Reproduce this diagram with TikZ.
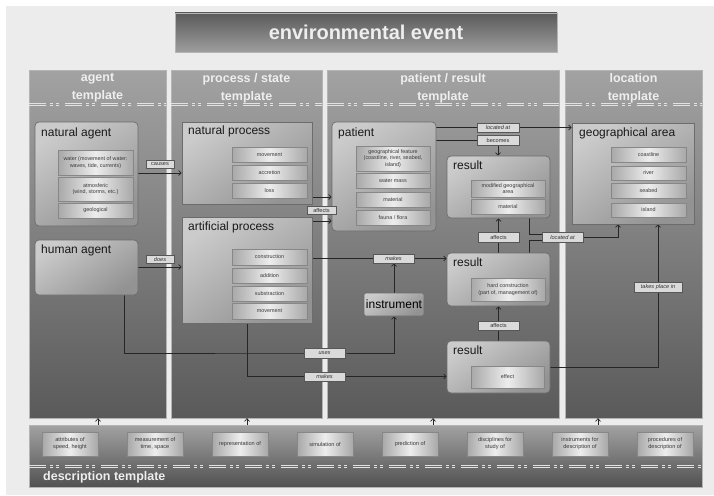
\documentclass[tikz,border=0pt]{standalone}
\usepackage{fontspec}
\setmainfont{Liberation Sans}
\usetikzlibrary{arrows.meta,calc}
\definecolor{pagebg}{HTML}{ECECEC}
\definecolor{colTop}{HTML}{A2A2A2}
\definecolor{colBot}{HTML}{5A5A5A}
\definecolor{colLine}{HTML}{B4B4B4}
\definecolor{boxA}{HTML}{CBCBCB}
\definecolor{boxB}{HTML}{939393}
\definecolor{boxLine}{HTML}{6C6C6C}
\definecolor{subA}{HTML}{A8A8A8}
\definecolor{subB}{HTML}{EDEDED}
\definecolor{subLine}{HTML}{878787}
\definecolor{lblFill}{HTML}{DADADA}
\definecolor{lblLine}{HTML}{575757}
\definecolor{lineC}{HTML}{262626}
\definecolor{hdrText}{HTML}{EEEEEE}
\definecolor{dashC}{HTML}{E2E2E2}
\definecolor{subText}{HTML}{3A3A3A}
\newcommand\subfnt{\fontsize{5.4}{6.6}\selectfont}
\newcommand\lblfnt{\fontsize{5.6}{6}\selectfont}
\newcommand\ttlfnt{\fontsize{12}{14}\selectfont}
\newcommand\hdrfnt{\bfseries\fontsize{12.5}{18}\selectfont}
\newcommand\mkbox[7][]{\node[#1, minimum width={(#5-#3)*1pt}, minimum height={(#6-#4)*1pt}, anchor=center] (#2) at ({(#3+#5)/2},{(#4+#6)/2}) {#7};}
\pgfdeclarelayer{bg}
\pgfdeclarelayer{lines}
\pgfsetlayers{bg,lines,main}
\tikzset{
  colst/.style={draw=colLine, line width=0.4pt, top color=colTop, bottom color=colBot, inner sep=0},
  descst/.style={draw=colLine, line width=0.4pt, top color=colTop, bottom color=colBot!90!black, inner sep=0},
  titlest/.style={draw=colLine, line width=0.5pt, top color=colBot, bottom color=colTop!105!white, inner sep=0, text=hdrText, font=\bfseries\fontsize{20}{24}\selectfont},
  hdr/.style={inner sep=0, align=center, text=hdrText, font=\hdrfnt},
  bigst/.style={draw=boxLine, line width=0.7pt, top color=boxA, bottom color=boxB, shading angle=35, inner sep=0},
  rbig/.style={bigst, rounded corners=4pt},
  subst/.style={draw=subLine, line width=0.6pt, left color=subA, right color=subA, middle color=subB, inner sep=0, font=\subfnt, align=center, text=subText},
  descbox/.style={subst, font=\fontsize{5.6}{7}\selectfont},
  ttl/.style={anchor=base west, inner sep=0, font=\ttlfnt, text=black!90},
  lblst/.style={draw=lblLine, line width=0.5pt, fill=lblFill, inner sep=0, font=\lblfnt, text=black!80},
  lbli/.style={lblst, font=\lblfnt\itshape},
  dashst/.style={draw=dashC, line width=0.6pt, dash pattern=on 17pt off 4pt on 3pt off 3pt on 3pt off 6pt},
  conn/.style={draw=lineC, line width=0.7pt},
  arr/.style={conn, -{Straight Barb[length=2.6pt,width=5pt]}}
}
\begin{document}
\begin{tikzpicture}[x=1pt,y=-1pt]
\useasboundingbox (0,0) rectangle (714,495);
\begin{pgfonlayer}{bg}
\fill[white] (0,0) rectangle (714,495);
\fill[pagebg] (6,6) rectangle (714,495);
\mkbox[colst]{colA}{29}{70}{166}{418}{}
\mkbox[colst]{colB}{171}{70}{322}{418}{}
\mkbox[colst]{colC}{327}{70}{559}{418}{}
\mkbox[colst]{colD}{565}{70}{702}{418}{}
\mkbox[descst]{desc}{29}{425}{702}{487}{}
\coordinate (hy) at (0,103.6);
\coordinate (hy2) at (0,105.4);
\coordinate (dy) at (0,465.6);
\coordinate (dy2) at (0,467.4);
\foreach \c in {colA,colB,colC,colD}{
  \draw[dashst] (\c.west |- hy) -- (\c.east |- hy);
  \draw[dashst] (\c.west |- hy2) -- (\c.east |- hy2);
}
\draw[dashst] (desc.west |- dy) -- (desc.east |- dy);
\draw[dashst] (desc.west |- dy2) -- (desc.east |- dy2);
\end{pgfonlayer}

\mkbox[titlest]{title}{175}{13}{557}{52}{environmental event}
\node[hdr] (hA) at (97.5,88) {agent\\template};
\node[hdr] (hB) at (246.5,88) {process / state\\template};
\node[hdr] (hC) at (443,88) {patient / result\\template};
\node[hdr] (hD) at (633.5,88) {location\\template};
\node[hdr, anchor=west] (descT) at (43,477) {description template};

% agent column
\mkbox[rbig]{na}{35}{122}{138}{226}{}
\node[ttl] (naT) at (41,136) {natural agent};
\mkbox[subst]{na1}{58}{150}{133}{175}{water (movement of water:\\waves, tide, currents)}
\mkbox[subst]{na2}{58}{177}{133}{201}{atmosferic\\(wind, storms, etc.)}
\mkbox[subst]{na3}{58}{203}{133}{218}{geological}
\mkbox[rbig]{ha}{35}{240}{138}{295}{}
\node[ttl] (haT) at (41,253) {human agent};

% process column
\mkbox[bigst]{np}{182}{122}{312}{204}{}
\node[ttl] (npT) at (188,134) {natural process};
\mkbox[subst]{np1}{232}{147}{307}{162}{movement}
\mkbox[subst]{np2}{232}{165}{307}{180}{accretion}
\mkbox[subst]{np3}{232}{183}{307}{198}{loss}
\mkbox[bigst]{ap}{182}{217}{312}{323}{}
\node[ttl] (apT) at (188,230) {artificial process};
\mkbox[subst]{ap1}{232}{249}{307}{265}{construction}
\mkbox[subst]{ap2}{232}{268}{307}{283}{addition}
\mkbox[subst]{ap3}{232}{286}{307}{301}{substraction}
\mkbox[subst]{ap4}{232}{303}{307}{319}{movement}

% patient / result column
\mkbox[rbig]{pa}{332}{122}{436}{231}{}
\node[ttl] (paT) at (338,136) {patient};
\mkbox[subst]{pa1}{356}{146}{430}{171}{geographical feature\\(coastline, river, seabed,\\island)}
\mkbox[subst]{pa2}{356}{173}{430}{188}{water mass}
\mkbox[subst]{pa3}{356}{192}{430}{207}{material}
\mkbox[subst]{pa4}{356}{210}{430}{225}{fauna / flora}
\mkbox[rbig]{r1}{447}{156}{550}{218}{}
\node[ttl] (r1T) at (453,169) {result};
\mkbox[subst]{r1a}{471}{180}{545}{197}{modified geographical\\area}
\mkbox[subst]{r1b}{471}{199}{545}{214}{material}
\mkbox[rbig]{r2}{447}{253}{550}{306}{}
\node[ttl] (r2T) at (453,266) {result};
\mkbox[subst]{r2a}{471}{278}{545}{301}{hard construction\\(part of, management of)}
\mkbox[rbig]{r3}{447}{341}{550}{393}{}
\node[ttl] (r3T) at (453,354) {result};
\mkbox[subst]{r3a}{471}{366}{544}{388}{effect}
\mkbox[rbig, rounded corners=2pt, font=\ttlfnt]{ins}{364}{293}{424}{316}{instrument}

% location column
\mkbox[bigst]{geo}{572}{123}{694}{224}{}
\node[ttl] (geoT) at (579,136) {geographical area};
\mkbox[subst]{g1}{611}{147}{686}{162}{coastline}
\mkbox[subst]{g2}{611}{166}{686}{180}{river}
\mkbox[subst]{g3}{611}{183}{686}{198}{seabed}
\mkbox[subst]{g4}{611}{203}{686}{217}{island}

% description boxes
\mkbox[descbox]{d1}{42}{432}{98}{456}{attributes of\\speed, height}
\mkbox[descbox]{d2}{127}{432}{183}{456}{measurement of\\time, space}
\mkbox[descbox]{d3}{212}{432}{268}{456}{representation of}
\mkbox[descbox]{d4}{297}{432}{353}{456}{simulation of}
\mkbox[descbox]{d5}{382}{432}{438}{456}{prediction of}
\mkbox[descbox]{d6}{467}{432}{523}{456}{disciplines for\\study of}
\mkbox[descbox]{d7}{552}{432}{608}{456}{instruments for\\description of}
\mkbox[descbox]{d8}{637}{432}{693}{456}{procedures of\\description of}

% connector labels
\mkbox[lblst]{lCauses}{146}{160}{174}{168}{causes}
\mkbox[lbli]{lDoes}{146}{255}{174}{263}{does}
\mkbox[lblst]{lAffL}{307}{206}{336}{214}{affects}
\mkbox[lbli]{lLoc1}{477}{123}{519}{132}{located at}
\mkbox[lblst]{lBec}{477}{135}{519}{145}{becomes}
\mkbox[lblst]{lAffM}{478}{232}{519}{242}{affects}
\mkbox[lbli]{lLoc2}{542}{232}{583}{242}{located at}
\mkbox[lbli]{lMakesU}{373}{254}{414}{263}{makes}
\mkbox[lbli]{lUses}{304}{348}{345}{358}{uses}
\mkbox[lbli]{lMakesL}{304}{372}{345}{381}{makes}
\mkbox[lblst]{lAffB}{478}{321}{519}{330}{affects}
\mkbox[lbli]{lTakes}{634}{282}{682}{292}{takes place in}

\begin{pgfonlayer}{lines}
\coordinate (yCauses) at (0,173);
\coordinate (yDoes) at (0,267);
\coordinate (yAff1) at (0,197);
\coordinate (yAff2) at (0,221);
\coordinate (xLoc) at (529,0);
\coordinate (xGeoLoc) at (618,0);
\coordinate (xUses) at (124,0);
\coordinate (xMk) at (247,0);
\coordinate (yTk) at (0,367);
\coordinate (xd1) at (98,0);
\coordinate (xd2) at (247,0);
\coordinate (xd3) at (433,0);
\coordinate (xd4) at (598,0);
\draw[arr] (na.east |- yCauses) -- (np.west |- yCauses);
\draw[arr] (ha.east |- yDoes) -- (ap.west |- yDoes);
\draw[arr] (np.east |- yAff1) -- (pa.west |- yAff1);
\draw[arr] (ap.east |- yAff2) -- (pa.west |- yAff2);
\draw[arr] (pa.east |- lLoc1) -- (geo.west |- lLoc1);
\draw[arr] (pa.east |- lBec) -| (r1.north -| lBec);
\draw[arr] (r2.north -| lAffM) -- (r1.south -| lAffM);
\draw[conn] (r1.south -| xLoc) |- ($(lLoc2.west)+(0,-3)$);
\draw[conn] (r2.north -| xLoc) |- ($(lLoc2.west)+(0,3)$);
\draw[arr] (lLoc2.east) -| (geo.south -| xGeoLoc);
\draw[arr] (ap.east |- lMakesU) -- (r2.west |- lMakesU);
\draw[arr] (ins.north) -- (lMakesU.south -| ins.north);
\draw[arr] (ha.south -| xUses) |- (lUses.west) -| (ins.south);
\draw[arr] (ap.south -| xMk) |- (r3.west |- lMakesL);
\draw[arr] (r3.north -| lAffB) -- (r2.south -| lAffB);
\draw[arr] (r3.east |- yTk) -| (geo.south -| lTakes);
\draw[arr] (desc.north -| xd1) -- (colA.south -| xd1);
\draw[arr] (desc.north -| xd2) -- (colB.south -| xd2);
\draw[arr] (desc.north -| xd3) -- (colC.south -| xd3);
\draw[arr] (desc.north -| xd4) -- (colD.south -| xd4);
\end{pgfonlayer}
\end{tikzpicture}
\end{document}
